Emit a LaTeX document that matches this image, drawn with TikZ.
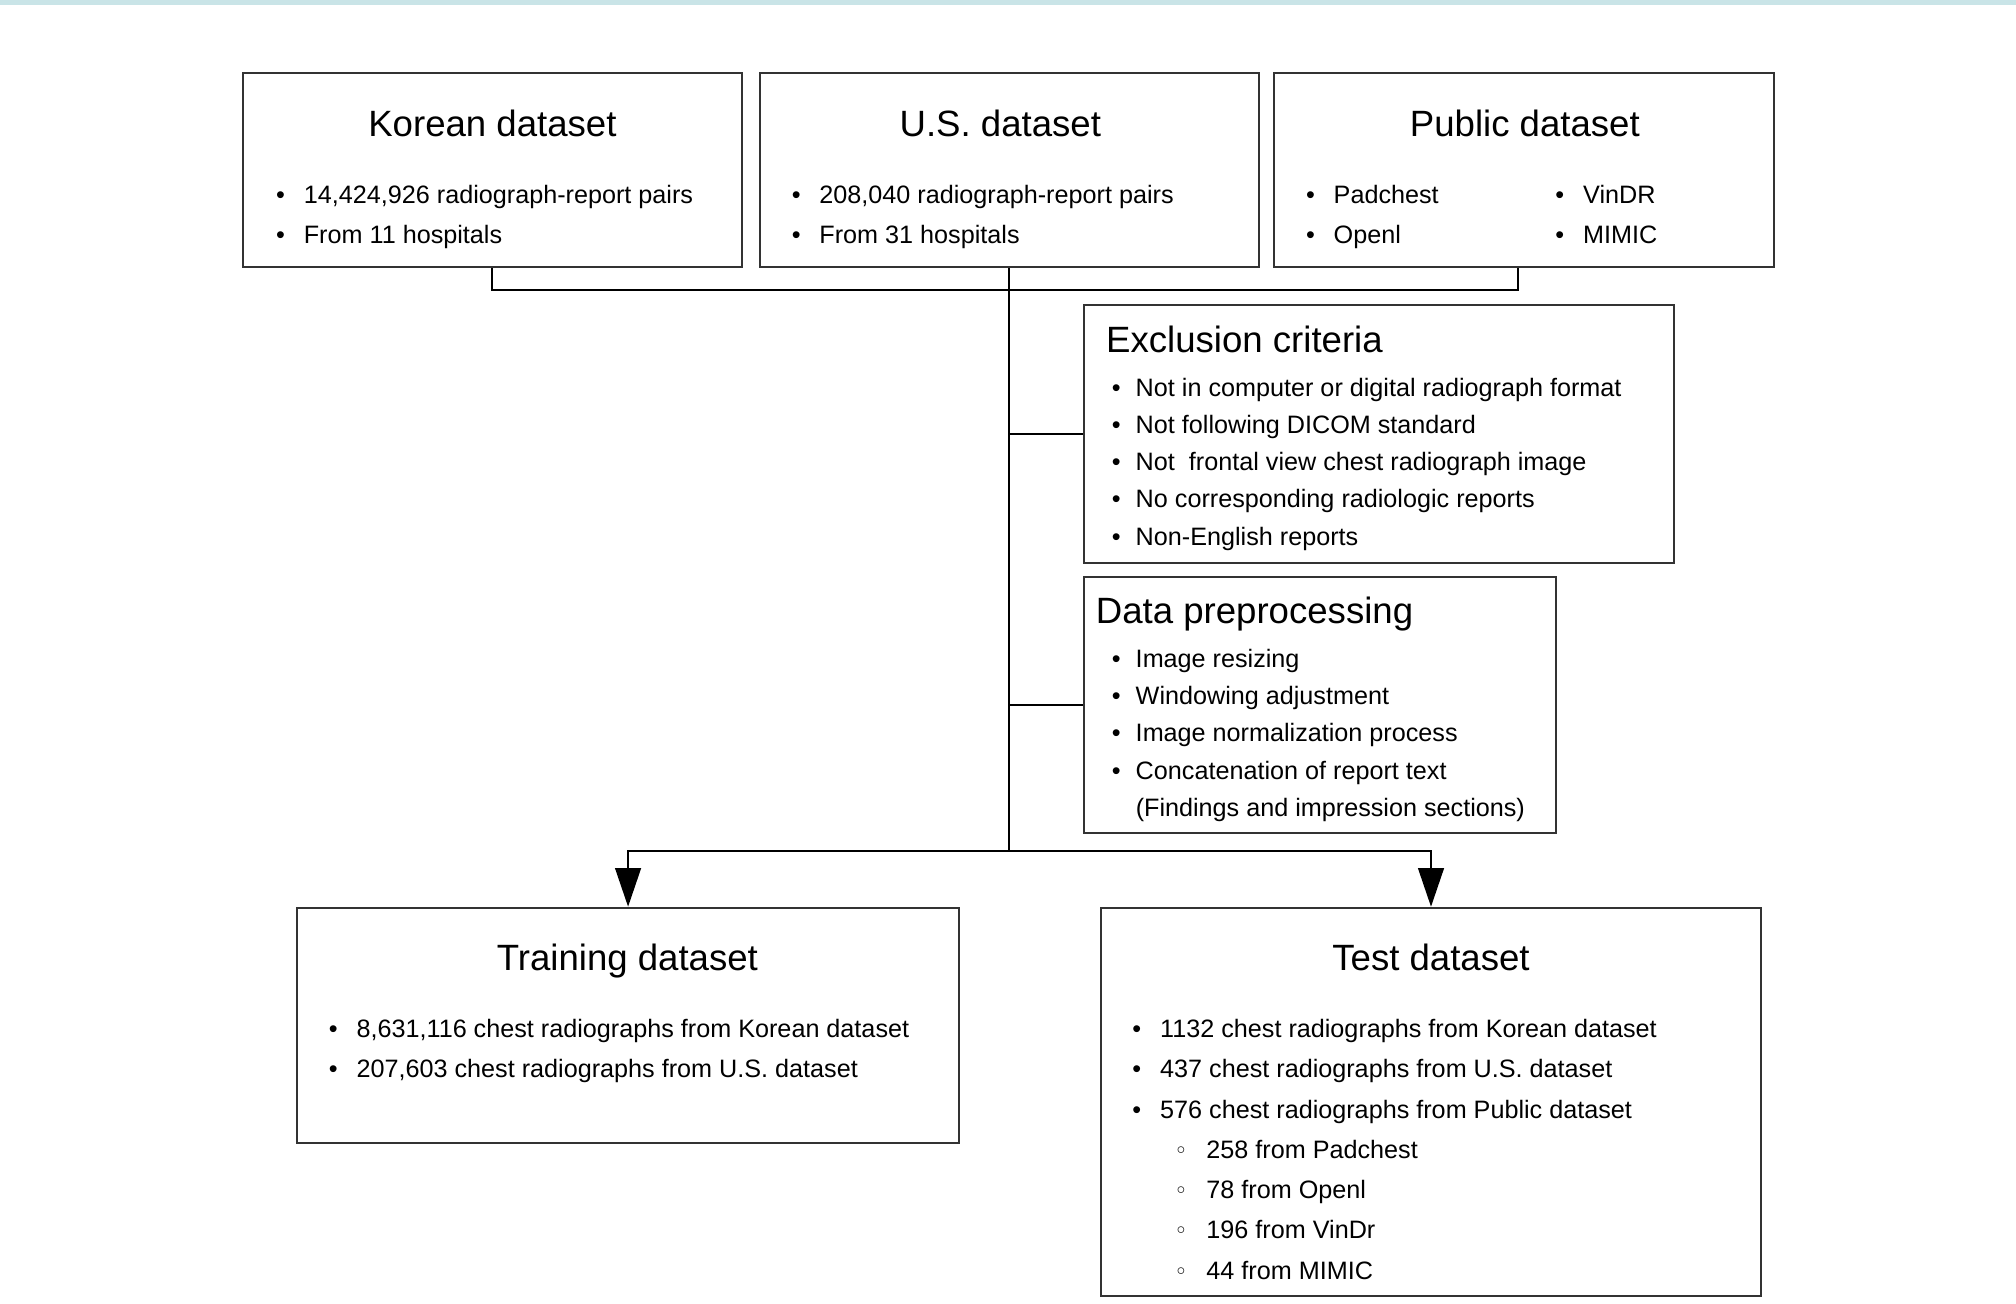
\documentclass[tikz,border=0pt]{standalone}
\usepackage{fontspec}
\setmainfont{Liberation Sans}
\newfontfamily\symfont{DejaVu Sans}
\usetikzlibrary{fit,arrows.meta}
\definecolor{bandteal}{HTML}{C9E4E7}
\newcommand{\bul}[1][0.75em]{\llap{\textbullet\hspace{#1}}}
\newcommand{\subbul}{\llap{{\symfont\fontsize{10}{10}\selectfont ◦}\hspace{0.75em}}}
\tikzset{
  box/.style={draw=black!80, line width=0.9pt, inner sep=0pt},
  title/.style={inner sep=0pt, anchor=base, font=\fontsize{16.2}{19}\selectfont},
  item/.style={inner sep=0pt, anchor=base west, font=\fontsize{11.15}{14}\selectfont},
  link/.style={line width=0.9pt},
  arr/.style={link, -{Triangle[length=0.6cm, width=0.4cm]}}
}
\begin{document}
\begin{tikzpicture}[x=0.02cm, y=-0.02cm]
  \fill[white] (0,0) rectangle (1568,1014);
  \useasboundingbox (0,0) rectangle (1568,1014);
  \fill[bandteal] (0,0) rectangle (1568,4);

  % source datasets
  \node[box, fit={(189,57) (577,208)}] (korean) {};
  \node[title] (koreant) at (383,106) {Korean dataset};
  \foreach \txt [count=\i] in {{14,424,926 radiograph-report pairs}, {From 11 hospitals}}
    \node[item] (kor\i) at (236,{158+31*(\i-1)}) {\bul\txt};

  \node[box, fit={(591,57) (979,208)}] (us) {};
  \node[title] (ust) at (778,106) {U.S. dataset};
  \foreach \txt [count=\i] in {{208,040 radiograph-report pairs}, {From 31 hospitals}}
    \node[item] (us\i) at (637,{158+31*(\i-1)}) {\bul\txt};

  \node[box, fit={(991,57) (1380,208)}] (public) {};
  \node[title] (publict) at (1186,106) {Public dataset};
  \foreach \txt [count=\i] in {Padchest, Openl}
    \node[item] (puba\i) at (1037,{158+31*(\i-1)}) {\bul\txt};
  \foreach \txt [count=\i] in {VinDR, MIMIC}
    \node[item] (pubb\i) at (1231,{158+31*(\i-1)}) {\bul\txt};

  % filtering steps
  \node[box, fit={(843,237) (1302,438)}] (excl) {};
  \node[title, anchor=base west] (exclt) at (860,274) {Exclusion criteria};
  \foreach \txt [count=\i] in {Not in computer or digital radiograph format,
      Not following DICOM standard, Not \ frontal view chest radiograph image,
      No corresponding radiologic reports, Non-English reports}
    \node[item] (excl\i) at (883,{308+29*(\i-1)}) {\bul[0.6em]\txt};

  \node[box, fit={(843,449) (1210,648)}] (prep) {};
  \node[title, anchor=base west] (prept) at (852,485) {Data preprocessing};
  \foreach \txt [count=\i] in {Image resizing, Windowing adjustment,
      Image normalization process, Concatenation of report text}
    \node[item] (prep\i) at (883,{519+29*(\i-1)}) {\bul[0.6em]\txt};
  \node[item] (prep5) at (883,635) {(Findings and impression sections)};

  % resulting datasets
  \node[box, fit={(231,706) (746,889)}] (train) {};
  \node[title] (traint) at (488,755) {Training dataset};
  \foreach \txt [count=\i] in {{8,631,116 chest radiographs from Korean dataset},
      {207,603 chest radiographs from U.S. dataset}}
    \node[item] (train\i) at (277,{807+31*(\i-1)}) {\bul\txt};

  \node[box, fit={(856,706) (1370,1008)}] (test) {};
  \node[title] (testt) at (1113,755) {Test dataset};
  \foreach \txt [count=\i] in {1132 chest radiographs from Korean dataset,
      437 chest radiographs from U.S. dataset,
      576 chest radiographs from Public dataset}
    \node[item] (test\i) at (902,{807+31.3*(\i-1)}) {\bul\txt};
  \foreach \txt [count=\i] in {258 from Padchest, 78 from Openl,
      196 from VinDr, 44 from MIMIC}
    \node[item] (sub\i) at (938,{901+31.3*(\i-1)}) {\subbul\txt};

  % connectors
  \coordinate (split) at (785,662);
  \draw[link] (korean.south) -- ++(0,17) -| ([xshift=-0.09cm]public.south);
  \draw[link] (us.south) -- (split);
  \draw[link] (split |- excl.west) -- (excl.west);
  \draw[link] (split |- prep.west) -- (prep.west);
  \draw[arr] (split) -| (train.north);
  \draw[arr] (split) -| (test.north);
\end{tikzpicture}
\end{document}
